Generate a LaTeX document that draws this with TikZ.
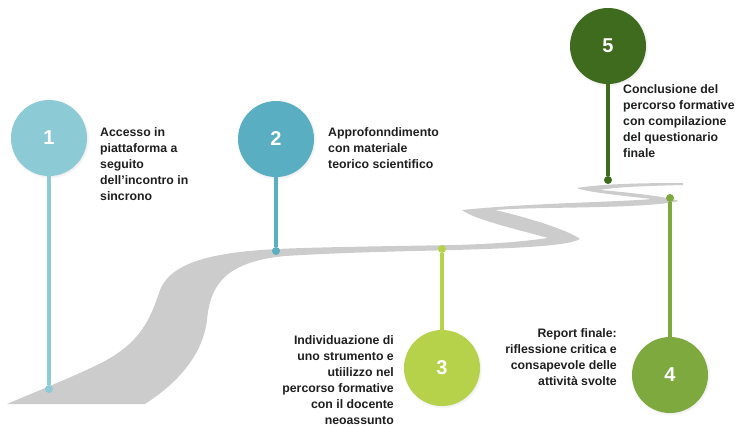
\documentclass[tikz,border=0pt]{standalone}
\usepackage{fontspec}
\setmainfont{Liberation Sans}
\usepackage{tikz}
\usetikzlibrary{shadows,fadings}

\definecolor{roadgray}{HTML}{CCCCCC}
\definecolor{stepone}{HTML}{8CCAD6}
\definecolor{steptwo}{HTML}{5AAEC1}
\definecolor{stepthree}{HTML}{B6D24B}
\definecolor{stepfour}{HTML}{7EA93F}
\definecolor{stepfive}{HTML}{3E6B1E}

\begin{document}
\begin{tikzpicture}[x=1pt,y=-1pt,
    stepcirc/.style={circle,minimum size=76pt,inner sep=0pt,text=white,
      font=\bfseries\fontsize{20}{20}\selectfont,
      circular drop shadow={shadow xshift=0.6pt,shadow yshift=-0.8pt,shadow scale=1.05,opacity=0.25}},
    stem/.style={line width=3.2pt},
    pin/.style={circle,minimum size=8pt,inner sep=0pt},
    steptext/.style={inner sep=0pt,text=black!88,font=\bfseries\fontsize{12.3}{16}\selectfont}]
      \useasboundingbox (0,0) rectangle (736,426);

      \fill[roadgray] (7,404) -- (145,404)
        .. controls (182,380) and (203,352) .. (207,320)
        .. controls (210,288) and (222,262) .. (285,256)
        .. controls (350,252) and (420,251) .. (455,250)
        .. controls (520,248) and (568,246) .. (580,239)
        .. controls (570,231) and (530,218) .. (495,210)
        .. controls (520,208) and (560,208) .. (600,207)
        .. controls (640,206) and (668,204) .. (679,201)
        .. controls (668,197) and (635,193) .. (600,190)
        .. controls (615,187) and (645,186) .. (683,185)
        -- (683,183)
        .. controls (640,183) and (600,184) .. (577,188)
        .. controls (585,192) and (625,196) .. (652,199)
        .. controls (620,202) and (530,203) .. (462,210)
        .. controls (475,220) and (520,230) .. (548,238)
        .. controls (520,242) and (490,244) .. (455,245)
        .. controls (400,246) and (320,247) .. (277,249)
        .. controls (220,252) and (172,260) .. (160,290)
        .. controls (150,320) and (140,345) .. (95,366)
        .. controls (70,378) and (35,392) .. (7,404) -- cycle;

      \node[pin,fill=stepone] (d1) at (49,389) {};
      \node[pin,fill=steptwo] (d2) at (276,251) {};
      \node[pin,fill=stepthree] (d3) at (442,249) {};
      \node[pin,fill=stepfour] (d4) at (670,198) {};
      \node[pin,fill=stepfive] (d5) at (608,180) {};

      \node[stepcirc,fill=stepone] (c1) at (49,138) {1};
      \node[stepcirc,fill=steptwo] (c2) at (276,139) {2};
      \node[stepcirc,fill=stepthree] (c3) at (442,368) {3};
      \node[stepcirc,fill=stepfour] (c4) at (670,375) {4};
      \node[stepcirc,fill=stepfive] (c5) at (608,46) {5};

      \draw[stem,stepone] (c1) -- (d1);
      \draw[stem,steptwo] (c2) -- (d2);
      \draw[stem,stepthree] (c3) -- (d3);
      \draw[stem,stepfour] (c4) -- (d4);
      \draw[stem,stepfive] (c5) -- (d5);

      \node[steptext,anchor=north west,align=left] (t1) at (100,127)
        {Accesso in\\piattaforma a\\seguito\\dell’incontro in\\sincrono};
      \node[steptext,anchor=north west,align=left] (t2) at (328,127)
        {Approfonndimento\\con materiale\\teorico scientifico};
      \node[steptext,anchor=north east,align=right] (t3) at (394,335)
        {Individuazione di\\uno strumento e\\utiilizzo nel\\percorso formative\\con il docente\\neoassunto};
      \node[steptext,anchor=north east,align=right] (t4) at (617,328)
        {Report finale:\\riflessione critica e\\consapevole delle\\attività svolte};
      \node[steptext,anchor=north west,align=left] (t5) at (623,84)
        {Conclusione del\\percorso formative\\con compilazione\\del questionario\\finale};
    \end{tikzpicture}
\end{document}
